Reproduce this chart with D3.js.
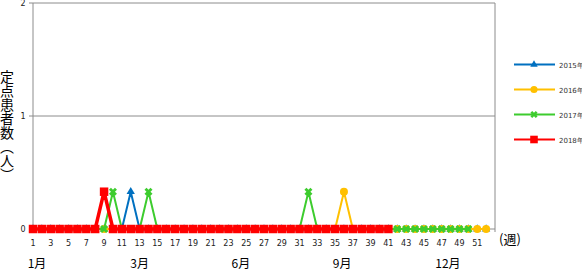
<!DOCTYPE html>
<html>
<head>
<meta charset="utf-8">
<script src="https://cdn.jsdelivr.net/npm/d3@7"></script>
<style>
	body { margin: 0; background: #fff; }
	svg { display: block; font-family: "DejaVu Sans", sans-serif; }
</style>
</head>
<body>
<svg id="chart" width="582" height="271"></svg>
<script>
// weekly sentinel counts per year (weeks 1..n)
var weeks2015 = [0,0,0,0,0,0,0,0,0,0,0,0.33,0,0,0,0,0,0,0,0,0,0,0,0,0,0,0,0,0,0,0,0,0,0,0,0,0,0,0,0,0,0,0,0,0,0,0,0,0,0,0,0]
var weeks2016 = [0,0,0,0,0,0,0,0,0,0,0,0,0,0,0,0,0,0,0,0,0,0,0,0,0,0,0,0,0,0,0,0,0,0,0,0.33,0,0,0,0,0,0,0,0,0,0,0,0,0,0,0,0]
var weeks2017 = [0,0,0,0,0,0,0,0,0,0.33,0,0,0,0.33,0,0,0,0,0,0,0,0,0,0,0,0,0,0,0,0,0,0.33,0,0,0,0,0,0,0,0,0,0,0,0,0,0,0,0,0,0]
var weeks2018 = [0,0,0,0,0,0,0,0,0.33,0,0,0,0,0,0,0,0,0,0,0,0,0,0,0,0,0,0,0,0,0,0,0,0,0,0,0,0,0,0,0,0]

var seriesNames = ["2015年", "2016年", "2017年", "2018年"]
var xTicks = d3.range(1, 53, 2)
var yTicks = [0, 1, 2]
var months = ["1月", "3月", "6月", "9月", "12月"]
var monthWeeks = [1.45, 13, 24.4, 35.8, 47.7]

var series = [
	{name: seriesNames[0], values: weeks2015, color: "#0070C0", width: 2, symbol: d3.symbolTriangle, size: 30},
	{name: seriesNames[1], values: weeks2016, color: "#FFC000", width: 2, symbol: d3.symbolCircle, size: 50},
	{name: seriesNames[2], values: weeks2017, color: "#3DCC2E", width: 2, symbol: d3.symbolCross, size: 40, rot: 45},
	{name: seriesNames[3], values: weeks2018, color: "#FF0000", width: 3.5, symbol: d3.symbolSquare, size: 72}
]

var svg = d3.select("#chart")
var plotL = 33, plotR = 495, plotT = 3, plotB = 229

var x = d3.scaleLinear().domain([1, 53]).range([plotL, plotR])
var y = d3.scaleLinear().domain([0, 2]).range([plotB, plotT])

// grid + frame
svg.append("g").selectAll("line")
	.data(yTicks.slice(1))
	.enter().append("line")
		.attr("x1", plotL - 4).attr("x2", plotR)
		.attr("y1", function(d) { return y(d) }).attr("y2", function(d) { return y(d) })
		.attr("stroke", "#8c8c8c").attr("stroke-width", 1)

svg.append("line").attr("x1", plotL).attr("x2", plotL).attr("y1", plotT).attr("y2", plotB + 3)
	.attr("stroke", "#8c8c8c")
svg.append("line").attr("x1", plotR).attr("x2", plotR).attr("y1", plotT).attr("y2", plotB + 3)
	.attr("stroke", "#8c8c8c")
svg.append("line").attr("x1", plotL - 4).attr("x2", plotR).attr("y1", plotB).attr("y2", plotB)
	.attr("stroke", "#8c8c8c")

// y tick labels
svg.append("g").selectAll("text")
	.data(yTicks)
	.enter().append("text")
		.attr("x", 23).attr("y", function(d) { return y(d) + 3 })
		.attr("text-anchor", "middle")
		.attr("font-size", 8).attr("fill", "#222")
		.text(function(d) { return d })

// x tick labels
svg.append("g").selectAll("text")
	.data(xTicks)
	.enter().append("text")
		.attr("x", function(d) { return x(d) }).attr("y", 246)
		.attr("text-anchor", "middle")
		.attr("font-size", 8).attr("fill", "#222")
		.text(function(d) { return d })

svg.append("text")
	.attr("x", 499).attr("y", 244)
	.attr("font-family", "Noto Sans CJK JP").attr("font-size", 13)
	.text("(週)")

// months
svg.append("g").selectAll("text")
	.data(months)
	.enter().append("text")
		.attr("x", function(d, i) { return x(monthWeeks[i]) }).attr("y", 268)
		.attr("text-anchor", "middle")
		.attr("font-family", "Noto Sans CJK JP").attr("font-size", 12)
		.text(function(d) { return d })

// y title, vertical
svg.append("text")
	.attr("x", 7).attr("y", 70)
	.attr("font-family", "Noto Sans CJK JP").attr("font-size", 14)
	.style("writing-mode", "vertical-rl")
	.text("定点患者数（人）")

// lines
var line = d3.line()
	.x(function(d, i) { return x(i + 1) })
	.y(function(d) { return y(d) })

series.forEach(function(s) {
	var g = svg.append("g")
	g.append("path")
		.datum(s.values)
		.attr("d", line)
		.attr("fill", "none")
		.attr("stroke", s.color)
		.attr("stroke-width", s.width)

	g.selectAll("path.mk")
		.data(s.values)
		.enter().append("path")
			.attr("class", "mk")
			.attr("d", d3.symbol().type(s.symbol).size(s.size))
			.attr("transform", function(d, i) {
				return "translate(" + x(i + 1) + "," + y(d) + ")" + (s.rot ? " rotate(" + s.rot + ")" : "")
			})
			.attr("fill", s.color)
})

// legend
var legend = svg.append("g").selectAll("g")
	.data(series)
	.enter().append("g")
		.attr("transform", function(d, i) { return "translate(0," + (64.5 + i * 25) + ")" })

legend.append("line")
	.attr("x1", 514).attr("x2", 555)
	.attr("stroke", function(d) { return d.color })
	.attr("stroke-width", 2)
legend.append("path")
	.attr("d", function(d) { return d3.symbol().type(d.symbol).size(d.size * 0.8)() })
	.attr("transform", function(d) { return "translate(534,0)" + (d.rot ? " rotate(" + d.rot + ")" : "") })
	.attr("fill", function(d) { return d.color })
legend.append("text")
	.attr("x", 559).attr("y", 3)
	.attr("font-size", 7).attr("fill", "#333")
	.text(function(d) { return d.name })
</script>
</body>
</html>
